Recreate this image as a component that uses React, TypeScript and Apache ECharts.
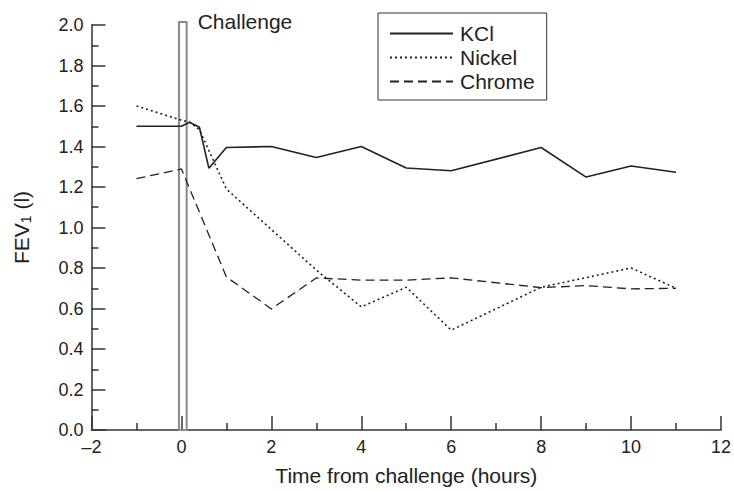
import React, { useEffect, useRef } from "react";
import * as echarts from "echarts";

const kclTime = [-1, 0, 0.18, 0.4, 0.61, 1, 2, 3, 4, 5, 6, 8, 9, 10, 11];
const kclFev = [1.5, 1.5, 1.52, 1.495, 1.293, 1.395, 1.4, 1.346, 1.4, 1.294, 1.28, 1.395, 1.249, 1.304, 1.273];

const nickelTime = [-1, 0, 0.18, 0.4, 1, 2, 3, 4, 5, 6, 8, 10, 11];
const nickelFev = [1.6, 1.53, 1.52, 1.483, 1.19, 0.99, 0.79, 0.608, 0.705, 0.493, 0.705, 0.8, 0.7];

const chromeTime = [-1, 0, 1, 2, 3, 4, 5, 6, 8, 9, 10, 11];
const chromeFev = [1.241, 1.289, 0.756, 0.598, 0.751, 0.74, 0.74, 0.751, 0.703, 0.713, 0.697, 0.7];

const challengeStart = -0.055;
const challengeEnd = 0.117;
const challengeTop = 2.015;
const challengeLabel = "Challenge";

const seriesNames = ["KCl", "Nickel", "Chrome"];

const FONT = "Liberation Sans, Arial, sans-serif";
const INK = "#222";

function pairs(t: number[], v: number[]) {
  return t.map((x, i) => [x, v[i]]);
}

export default function App() {
  const ref = useRef<HTMLDivElement>(null);
  useEffect(() => {
    if (!ref.current) return;
    const chart = echarts.init(ref.current, undefined, { renderer: "svg" });
    const axisLineStyle = { color: "#333", width: 1.5 };
    chart.setOption({
      animation: false,
      backgroundColor: "#fff",
      textStyle: { fontFamily: FONT },
      grid: { left: 91.5, right: 9.7, top: 25, bottom: 53.3, containLabel: false },
      legend: {
        data: seriesNames,
        orient: "vertical",
        left: 378,
        top: 13,
        itemWidth: 63,
        itemHeight: 14,
        itemGap: 3,
        padding: [10, 12, 8, 11],
        borderColor: "#333",
        borderWidth: 1,
        itemStyle: { opacity: 0, borderWidth: 0 },
        textStyle: { fontSize: 21, color: INK, fontFamily: FONT, padding: [0, 0, 0, 2] },
      },
      xAxis: {
        type: "value",
        min: -2,
        max: 12,
        interval: 2,
        name: "Time from challenge (hours)",
        nameLocation: "middle",
        nameGap: 35,
        nameTextStyle: { fontSize: 21, color: INK, fontFamily: FONT },
        axisLine: { onZero: false, lineStyle: axisLineStyle },
        axisTick: { inside: true, length: 14, lineStyle: axisLineStyle },
        minorTick: { show: true, splitNumber: 2, length: 7, lineStyle: axisLineStyle },
        splitLine: { show: false },
        axisLabel: {
          fontSize: 18,
          color: INK,
          margin: 8,
          formatter: (v: number) => (v < 0 ? "\u2013" + Math.abs(v) : String(v)),
        },
      },
      yAxis: {
        type: "value",
        min: 0,
        max: 2,
        interval: 0.2,
        name: "{a|FEV}{b|1}{a| (l)}",
        nameLocation: "middle",
        nameRotate: 90,
        nameGap: 59,
        nameTextStyle: {
          color: INK,
          fontFamily: FONT,
          rich: {
            a: { fontSize: 21, color: INK, fontFamily: FONT },
            b: { fontSize: 14, color: INK, fontFamily: FONT, verticalAlign: "bottom", padding: [8, 0, 0, 0] },
          },
        },
        axisLine: { show: true, onZero: false, lineStyle: axisLineStyle },
        axisTick: { show: true, inside: true, length: 14, lineStyle: axisLineStyle },
        minorTick: { show: true, splitNumber: 2, length: 7, lineStyle: axisLineStyle },
        splitLine: { show: false },
        axisLabel: {
          fontSize: 18,
          color: INK,
          margin: 8,
          formatter: (v: number) => v.toFixed(1),
        },
      },
      series: [
        {
          name: "KCl",
          type: "line",
          data: pairs(kclTime, kclFev),
          symbol: "none",
          lineStyle: { color: INK, width: 1.6, type: "solid" },
          itemStyle: { color: INK },
        },
        {
          name: "Nickel",
          type: "line",
          data: pairs(nickelTime, nickelFev),
          symbol: "none",
          lineStyle: { color: INK, width: 1.6, type: [2, 3] },
          itemStyle: { color: INK },
        },
        {
          name: "Chrome",
          type: "line",
          data: pairs(chromeTime, chromeFev),
          symbol: "none",
          lineStyle: { color: INK, width: 1.3, type: [9, 5] },
          itemStyle: { color: INK },
        },
        {
          name: "challenge",
          type: "custom",
          clip: false,
          silent: true,
          data: [[challengeStart, challengeEnd, challengeTop]],
          encode: { x: [0, 1], y: 2 },
          renderItem: (_params: any, api: any) => {
            const p0 = api.coord([api.value(0), 0]);
            const p1 = api.coord([api.value(1), api.value(2)]);
            return {
              type: "group",
              children: [
                {
                  type: "rect",
                  shape: { x: p0[0], y: p1[1], width: p1[0] - p0[0], height: p0[1] - p1[1] },
                  style: { fill: "none", stroke: "#8a8a8a", lineWidth: 2 },
                },
                {
                  type: "text",
                  style: {
                    text: challengeLabel,
                    x: p1[0] + 11,
                    y: p1[1],
                    verticalAlign: "middle",
                    align: "left",
                    fontSize: 21,
                    fontFamily: FONT,
                    fill: INK,
                  },
                },
              ],
            };
          },
        },
      ],
    });
    return () => chart.dispose();
  }, []);
  return (
    <div
      ref={ref}
      style={{ position: "fixed", left: 0, top: 0, width: 734, height: 491, background: "#fff" }}
    />
  );
}
